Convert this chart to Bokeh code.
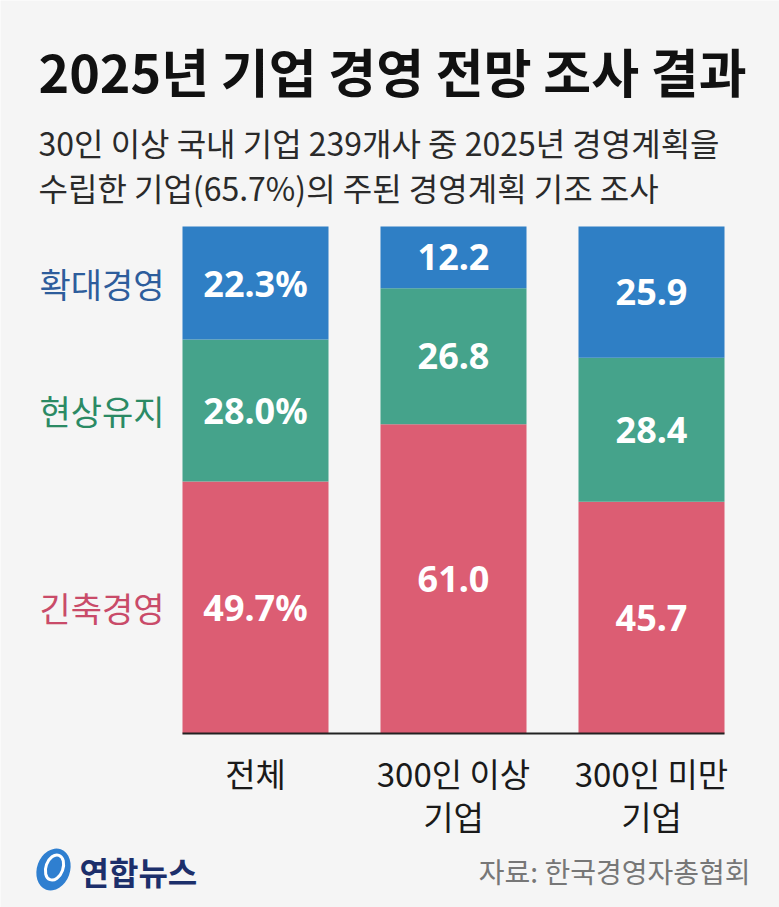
from bokeh.plotting import figure
from bokeh.models import ColumnDataSource, Range1d
from bokeh.core.properties import value
from bokeh.embed import file_html
from bokeh.resources import INLINE

# ---------------- data ----------------
categories = ["전체", "300인 이상 기업", "300인 미만 기업"]
category_lines = [["전체"], ["300인 이상", "기업"], ["300인 미만", "기업"]]
series = ["긴축경영", "현상유지", "확대경영"]          # bottom -> top
contraction = [49.7, 61.0, 45.7]
status_quo = [28.0, 26.8, 28.4]
expansion = [22.3, 12.2, 25.9]
bar_colors = ["#dc5d73", "#45a38b", "#2f7fc5"]
legend_colors = ["#c94b69", "#2b8a64", "#2d5d9c"]

title_text = "2025년 기업 경영 전망 조사 결과"
subtitle_lines = ["30인 이상 국내 기업 239개사 중 2025년 경영계획을",
                  "수립한 기업(65.7%)의 주된 경영계획 기조 조사"]
source_text = "자료: 한국경영자총협회"
logo_text = "연합뉴스"

# ---------------- layout (page pixels) ----------------
W, H = 779, 907
FIRST_CENTER, STEP = 255, 198        # bar-slot geometry
BAR_TOP, BASE = 226, 733
PPP = (BASE - BAR_TOP) / 100.0       # px per percent
BAR_W = 146 / STEP
BG = "#f5f5f5"
KR = "Noto Sans CJK KR"


def ux(page_x):
    return (page_x - FIRST_CENTER) / STEP


def uy(page_y):
    return (BASE - page_y) / PPP


p = figure(width=W, height=H, output_backend="svg", toolbar_location=None,
           x_range=Range1d(ux(0), ux(W)), y_range=Range1d(uy(H), uy(0)),
           x_axis_location=None, y_axis_location=None,
           min_border=0, min_border_left=0, min_border_right=0,
           min_border_top=0, min_border_bottom=0,
           background_fill_color=BG, border_fill_color=BG, outline_line_color=None)
p.grid.visible = False

xpos = list(range(len(categories)))
src = ColumnDataSource(dict(x=xpos, cat=categories, c=contraction, s=status_quo, e=expansion))
p.vbar_stack(["c", "s", "e"], x="x", width=BAR_W, color=bar_colors,
             line_color=None, source=src)

# value labels
lx, ly, lt = [], [], []
for i in xpos:
    base = 0.0
    for vals in (contraction, status_quo, expansion):
        v = vals[i]
        lx.append(i)
        ly.append(base + v / 2)
        lt.append(f"{v:.1f}%" if i == 0 else f"{v:.1f}")
        base += v
p.text(x=lx, y=ly, text=lt, text_font=value("Noto Sans"), text_font_style="bold",
       text_font_size="36px", text_color="white", text_align="center",
       text_baseline="middle")

# baseline
p.segment(x0=[xpos[0] - BAR_W / 2], x1=[xpos[-1] + BAR_W / 2], y0=[0], y1=[0],
          line_color="#222222", line_width=2)

# legend labels beside first bar
gx, gy, gt = [], [], []
base = 0.0
for name, vals in zip(series, (contraction, status_quo, expansion)):
    v = vals[0]
    gx.append(ux(164))
    gy.append(base + v / 2)
    gt.append(name)
    base += v
p.text(x=gx, y=gy, text=gt, text_color=legend_colors, text_font=value(KR),
       text_font_size="34px", text_align="right", text_baseline="middle")

# category labels
cx, cy, ct = [], [], []
for i, lines in zip(xpos, category_lines):
    for j, line in enumerate(lines):
        cx.append(i)
        cy.append(uy(772 + 43 * j))
        ct.append(line)
p.text(x=cx, y=cy, text=ct, text_font=value(KR), text_font_size="33px",
       text_color="#1a1a1a", text_align="center", text_baseline="middle")

# title and subtitle
p.text(x=[ux(38)], y=[uy(70)], text=[title_text], text_font=value(KR),
       text_font_style="bold", text_font_size="52px", text_color="#111111",
       text_align="left", text_baseline="middle")
p.text(x=[ux(38)] * len(subtitle_lines),
       y=[uy(141 + 45 * j) for j in range(len(subtitle_lines))],
       text=subtitle_lines, text_font=value(KR), text_font_size="32px",
       text_color="#2a2a2a", text_align="left", text_baseline="middle")

# source
p.text(x=[ux(750)], y=[uy(870)], text=[source_text], text_font=value(KR),
       text_font_size="28px", text_color="#777777", text_align="right",
       text_baseline="middle")

# logo
p.ellipse(x=[ux(53)], y=[uy(869)], width=33, height=43, width_units="screen",
          height_units="screen", angle=-0.35, fill_color="#2f7fd0", line_color=None)
p.ellipse(x=[ux(54)], y=[uy(867)], width=17, height=26, width_units="screen",
          height_units="screen", angle=-0.35, fill_color=None, line_color="white",
          line_width=3)
p.text(x=[ux(79)], y=[uy(870)], text=[logo_text], text_font=value(KR),
       text_font_style="bold", text_font_size="32px", text_color="#1c2f6b",
       text_align="left", text_baseline="middle")

open("out.html", "w").write(file_html(p, INLINE))
